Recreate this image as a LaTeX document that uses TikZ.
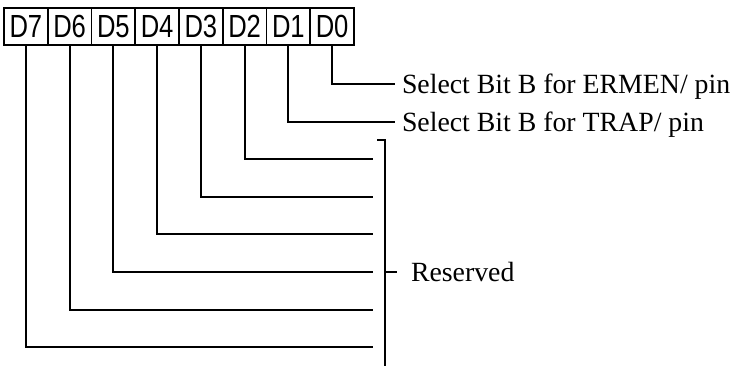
\documentclass[tikz,border=0pt]{standalone}
\usepackage{fontspec}
\setmainfont{Liberation Serif}
\newfontfamily\dfont[FakeStretch=0.8]{Liberation Sans}
\begin{document}
\begin{tikzpicture}[x=1pt,y=-1pt,line width=2pt,
  bitbox/.style={draw,line width=1.8pt,minimum width=43.75pt,minimum height=37pt,inner sep=0pt,
    font=\dfont\fontsize{32}{33}\selectfont},
  lbl/.style={anchor=base west,inner sep=0pt,font=\fontsize{27.8}{30}\selectfont},
  wire/.style={line width=2pt}]
\useasboundingbox (0,0) rectangle (737,366);
\foreach \k in {0,...,7}{
  \pgfmathsetmacro{\xc}{4+43.75*(7-\k)+21.875}
  \node[bitbox] (b\k) at (\xc,26.5) {\raisebox{-0.5pt}{D\k}};
}
% line ends
\coordinate (e0) at (395,84);
\coordinate (e1) at (395,121.6);
\foreach \k in {2,...,7}{
  \pgfmathsetmacro{\yy}{84+37.6*\k}
  \coordinate (e\k) at (373,\yy);
}
\foreach \k in {0,...,7}{
  \draw[wire] (b\k.south) |- (e\k);
}
% labels
\node[lbl] (t0) at (401,94) {Select Bit B for ERMEN/ pin};
\node[lbl] (t1) at (401,132) {Select Bit B for TRAP/ pin};
% bracket
\coordinate (bt) at (385,140);
\coordinate (btl) at (377,140);
\coordinate (bb) at (385,366);
\coordinate (bm) at (385,272);
\coordinate (bmr) at (397,272);
\draw[wire] (btl) -- (bt) -- (bb);
\draw[wire] (bm) -- (bmr);
\node[lbl] (res) at (410,282) {Reserved};
\end{tikzpicture}
\end{document}
